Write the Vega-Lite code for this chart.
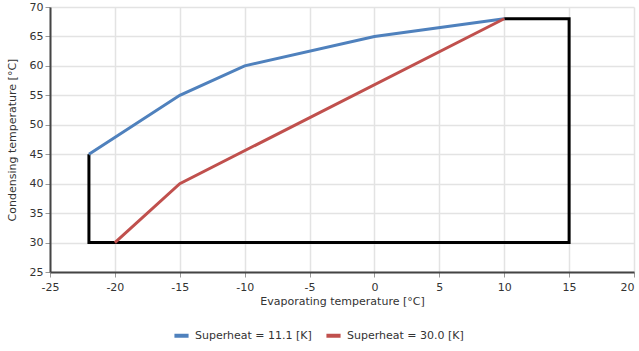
{
  "$schema": "https://vega.github.io/schema/vega-lite/v6.json",
  "width": 584,
  "height": 265,
  "autosize": {"type": "none"},
  "padding": {"left": 50, "top": 7, "right": 5, "bottom": 79},
  "background": "white",
  "config": {
    "font": "DejaVu Sans",
    "view": {"stroke": null},
    "axis": {
      "labelFont": "DejaVu Sans",
      "titleFont": "DejaVu Sans",
      "labelFontSize": 11,
      "titleFontSize": 11,
      "titleFontWeight": "normal",
      "labelColor": "#333333",
      "titleColor": "#333333",
      "gridColor": "#e3e3e3",
      "gridWidth": 1.5,
      "domainColor": "#444444",
      "domainWidth": 2,
      "tickColor": "#999999",
      "tickSize": 5,
      "labelOverlap": false
    },
    "axisY": {"labelOverlap": false}
  },
  "datasets": {
    "curves": [
      {"series": "Superheat = 11.1 [K]", "ord": 1, "evap": -22, "cond": 45},
      {"series": "Superheat = 11.1 [K]", "ord": 2, "evap": -15, "cond": 55},
      {"series": "Superheat = 11.1 [K]", "ord": 3, "evap": -10, "cond": 60},
      {"series": "Superheat = 11.1 [K]", "ord": 4, "evap": 0, "cond": 65},
      {"series": "Superheat = 11.1 [K]", "ord": 5, "evap": 10, "cond": 68},
      {"series": "Superheat = 30.0 [K]", "ord": 1, "evap": -20, "cond": 30},
      {"series": "Superheat = 30.0 [K]", "ord": 2, "evap": -15, "cond": 40},
      {"series": "Superheat = 30.0 [K]", "ord": 3, "evap": 10, "cond": 68}
    ],
    "envelope": [
      {"ord": 1, "evap": -22, "cond": 45},
      {"ord": 2, "evap": -22, "cond": 30},
      {"ord": 3, "evap": 15, "cond": 30},
      {"ord": 4, "evap": 15, "cond": 68},
      {"ord": 5, "evap": 10, "cond": 68}
    ]
  },
  "encoding": {
    "x": {
      "field": "evap", "type": "quantitative",
      "scale": {"domain": [-25, 20], "nice": false},
      "axis": {"title": "Evaporating temperature [°C]", "tickCount": 9, "labelPadding": 4, "titlePadding": 3, "labelOverlap": false, "labelFlush": false, "labelBound": false, "labelExpr": "'' + datum.value",
        "labelAlign": {"condition": {"test": "datum.value == 20", "value": "right"}, "value": "center"}}
    },
    "y": {
      "field": "cond", "type": "quantitative",
      "scale": {"domain": [25, 70], "nice": false, "zero": false},
      "axis": {"title": "Condensing temperature [°C]", "tickCount": 9, "labelPadding": 2, "titlePadding": 12, "labelOverlap": false, "labelFlush": false, "labelBound": false, "labelExpr": "'' + datum.value"}
    },
    "order": {"field": "ord", "type": "quantitative"}
  },
  "layer": [
    {
      "data": {"name": "envelope"},
      "mark": {"type": "line", "color": "black", "strokeWidth": 3, "strokeJoin": "miter"}
    },
    {
      "data": {"name": "curves"},
      "mark": {"type": "line", "strokeWidth": 3},
      "encoding": {
        "color": {
          "field": "series", "type": "nominal",
          "scale": {"domain": ["Superheat = 11.1 [K]", "Superheat = 30.0 [K]"], "range": ["#4f81bd", "#c0504d"]},
          "legend": {
            "title": null,
            "orient": "none",
            "direction": "horizontal",
            "legendX": 122,
            "legendY": 319,
            "symbolType": "stroke",
            "symbolStrokeWidth": 4,
            "symbolSize": 200,
            "labelFont": "DejaVu Sans",
            "labelFontSize": 11,
            "labelColor": "#333333",
            "columnPadding": 6,
            "labelOffset": 4
          }
        }
      }
    }
  ]
}
